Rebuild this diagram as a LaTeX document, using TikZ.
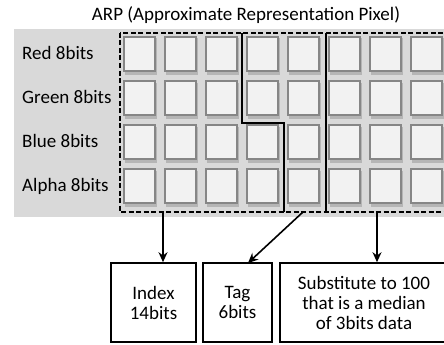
\documentclass[tikz,border=0pt]{standalone}
\usepackage{fontspec}
\setmainfont{Carlito}
\usetikzlibrary{arrows.meta}
\definecolor{bggray}{HTML}{D9D9D9}
\definecolor{cellfill}{HTML}{F2F2F2}
\definecolor{cellline}{HTML}{868686}
\definecolor{cellshadow}{HTML}{A6A6A6}
\begin{document}
\begin{tikzpicture}[x=1pt,y=-1pt,
  txt/.style={font=\fontsize{19}{20}\selectfont, inner sep=0pt},
  rowlabel/.style={txt, anchor=base west},
  outbox/.style={draw, line width=1.6pt, txt, align=center, minimum height=79pt},
  cellbox/.style={fill=cellfill, draw=cellline, line width=1.8pt},
  cellshade/.style={fill=cellshadow, opacity=0.7},
  sep/.style={line width=1.6pt},
  dashedframe/.style={line width=1.5pt, dash pattern=on 5pt off 2.5pt},
  arr/.style={line width=1.6pt, -{Stealth[length=10pt,width=9pt]}}
]
\useasboundingbox (0,0) rectangle (444,345);
\clip (0,0) rectangle (444,345);
% title
\node[txt, anchor=base] (title) at (246,21) {ARP (Approximate Representation Pixel)};
% gray background
\fill[bggray] (14,29) rectangle (460,217);
% row labels
\node[rowlabel] (lred) at (22,59.5) {Red 8bits};
\node[rowlabel] (lgreen) at (22,103.5) {Green 8bits};
\node[rowlabel] (lblue) at (22,147.5) {Blue 8bits};
\node[rowlabel] (lalpha) at (22,191.5) {Alpha 8bits};
% cells
\foreach \cx in {124,165,206,247,288,329,370,411}{
  \foreach \ry in {37,81,125,169}{
    \fill[cellshade] (\cx+0.5,\ry+1.5) rectangle (\cx+33,\ry+37.5);
    \draw[cellbox] (\cx,\ry) rectangle (\cx+31,\ry+34);
  }
}
% dashed frame
\draw[dashedframe] (120,33) rectangle (470,212);
% separators
\draw[sep] (242,33) -- (242,123) -- (284,123) -- (284,212);
\draw[sep] (326,33) -- (326,212);
% output boxes
\node[outbox, minimum width=85pt] (index) at (153.5,302.5) {Index\\14bits};
\node[outbox, minimum width=69pt] (tag) at (237.5,302.5) {Tag\\6bits};
\node[outbox, minimum width=168pt] (subst) at (364,302.5) {Substitute to 100\\that is a median\\of 3bits data};
% arrow sources
\coordinate (sidx) at (163,212);
\coordinate (stag) at (303,212);
\coordinate (ssub) at (377,212);
\coordinate (ttag) at (248,263);
\draw[arr] (sidx) -- (sidx |- index.north);
\draw[arr] (stag) -- (ttag);
\draw[arr] (ssub) -- (ssub |- subst.north);
\end{tikzpicture}
\end{document}
